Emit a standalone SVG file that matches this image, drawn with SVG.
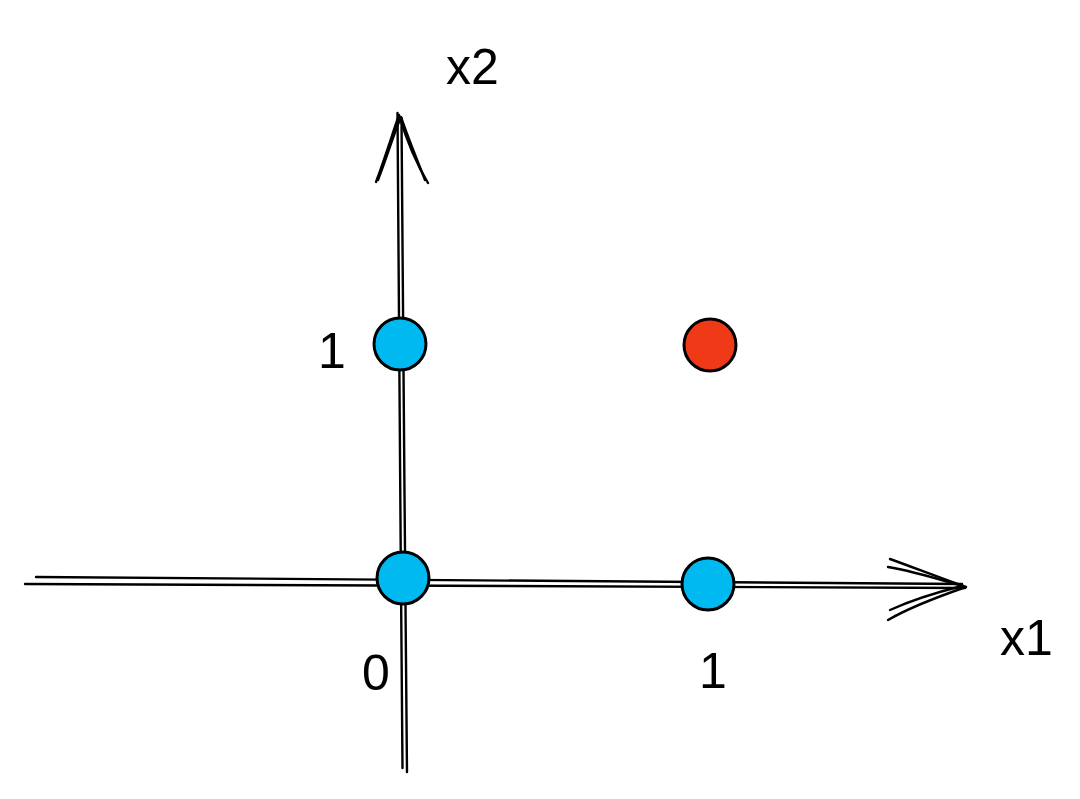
<svg xmlns="http://www.w3.org/2000/svg" width="1080" height="799" viewBox="0 0 1080 799">
<style>
.ln{fill:none;stroke:#000;stroke-width:2.4;stroke-linecap:round;stroke-linejoin:round}
.blue{fill:#00b9f1;stroke:#000;stroke-width:3}
.red{fill:#f03a17;stroke:#000;stroke-width:3}
.lbl{font-family:"Liberation Sans",Arial,sans-serif;font-size:50px;fill:#000}
</style>
<rect width="1080" height="799" fill="#fff"/>
<g id="connectors">
<g id="axis-x2">
<path class="ln" d="M397.5 113 C398 300 401 550 402.5 768"/>
<path class="ln" d="M401.5 118 C403 320 405 560 407 772"/>
<path class="ln" d="M376 182 C385 158 392 135 399 115 C405 135 414 160 428 183"/>
<path class="ln" d="M378 180 C388 154 394 133 401 117 C408 138 418 162 425 180"/>
</g>
<g id="axis-x1">
<path class="ln" d="M36 577 C300 577 600 580 962 584"/>
<path class="ln" d="M25 584 C300 584 620 585 965 588"/>
<path class="ln" d="M890 559 C915 568 940 578 966 587 C940 596 912 606 888 620"/>
<path class="ln" d="M888 567 C913 571 938 579 962 586 C938 592 912 600 890 610"/>
</g>
</g>
<g id="node-00"><circle class="blue" cx="403" cy="578" r="26"/></g>
<g id="node-01"><circle class="blue" cx="400" cy="344" r="26"/></g>
<g id="node-10"><circle class="blue" cx="708" cy="584" r="26"/></g>
<g id="node-11"><circle class="red" cx="710" cy="345" r="26"/></g>
<g id="labels">
<text class="lbl" x="446" y="84">x2</text>
<text class="lbl" x="318" y="368">1</text>
<text class="lbl" x="362" y="690">0</text>
<text class="lbl" x="699" y="688">1</text>
<text class="lbl" x="1000" y="655">x1</text>
</g>
</svg>
